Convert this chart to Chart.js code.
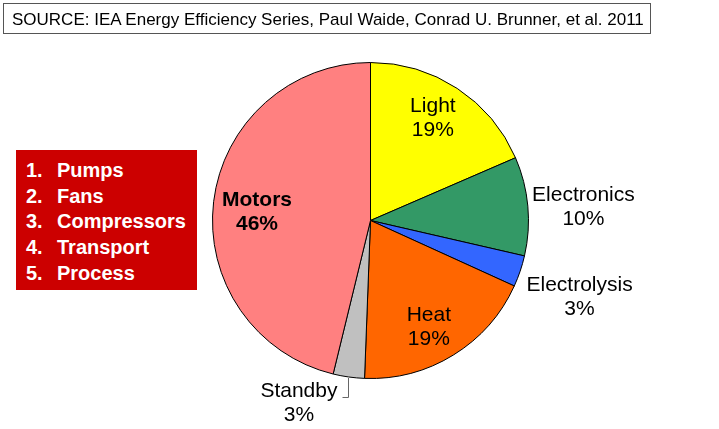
<!DOCTYPE html>
<html>
<head>
<meta charset="utf-8">
<title>Electricity use by end use</title>
<script src="https://cdn.jsdelivr.net/npm/chart.js@4"></script>
<style>
  body { margin: 0; background: #fff; font-family: "Liberation Sans", Arial, sans-serif; }
  #wrap { position: relative; width: 719px; height: 429px; }
  #source {
    position: absolute; left: 3px; top: 3px; width: 638px; height: 29px;
    border: 1px solid #555; font-size: 17px; line-height: 32px; padding-left: 8px;
    box-sizing: content-box; color: #000; white-space: nowrap;
  }
  #motorUses {
    position: absolute; left: 16px; top: 150px; width: 181px; height: 140px;
    background: #cc0000; color: #fff; font-weight: bold; font-size: 20px;
  }
  #motorUses div { position: absolute; left: 10px; height: 26px; line-height: 26px; }
  #motorUses span { display: inline-block; width: 31px; }
</style>
</head>
<body>
<div id="wrap">
  <canvas id="pie" width="719" height="429"></canvas>
  <div id="source"></div>
  <div id="motorUses"></div>
</div>
<script>
const sourceText = 'SOURCE: IEA Energy Efficiency Series, Paul Waide, Conrad U. Brunner, et al. 2011';
const motorUses = ['Pumps', 'Fans', 'Compressors', 'Transport', 'Process'];

const categories = ['Light', 'Electronics', 'Electrolysis', 'Heat', 'Standby', 'Motors'];
const shares = [18.5, 10.1, 3.2, 18.8, 3.2, 46.2];
const shareLabels = ['19%', '10%', '3%', '19%', '3%', '46%'];
const colors = ['#ffff00', '#339966', '#3366ff', '#ff6600', '#c0c0c0', '#ff8080'];

// where each label sits: fraction of the radius, and a turn (degrees) off the slice middle
const labelSpots = [
  { r: 0.76, turn: -2 },
  { r: 1.35, turn: 1.7 },
  { r: 1.41, turn: 1.5 },
  { r: 0.77, turn: 3 },
  { r: 1.24, turn: 13.5 },
  { r: 0.72, turn: -2.8 }
];

document.getElementById('source').textContent = sourceText;
const box = document.getElementById('motorUses');
motorUses.forEach((name, i) => {
  const row = document.createElement('div');
  row.style.top = (7 + i * 25.7) + 'px';
  row.innerHTML = '<span>' + (i + 1) + '.</span>' + name;
  box.appendChild(row);
});

const sliceLabels = {
  id: 'sliceLabels',
  afterDatasetsDraw(chart) {
    const ctx = chart.ctx;
    const arcs = chart.getDatasetMeta(0).data;
    ctx.save();
    ctx.textAlign = 'center';
    ctx.textBaseline = 'middle';
    ctx.fillStyle = '#000';
    arcs.forEach((arc, i) => {
      const mid = (arc.startAngle + arc.endAngle) / 2;
      const a = mid + labelSpots[i].turn * Math.PI / 180;
      const d = arc.outerRadius * labelSpots[i].r;
      const x = arc.x + Math.cos(a) * d;
      const y = arc.y + Math.sin(a) * d;
      ctx.font = (categories[i] === 'Motors' ? 'bold ' : '') + '21px "Liberation Sans", Arial, sans-serif';
      ctx.fillText(categories[i], x, y - 12);
      ctx.fillText(shareLabels[i], x, y + 12);

      if (categories[i] === 'Standby') {
        // small leader from the slice edge
        const ex = arc.x + Math.cos(mid) * arc.outerRadius;
        const ey = arc.y + Math.sin(mid) * arc.outerRadius;
        ctx.strokeStyle = '#666';
        ctx.lineWidth = 1;
        ctx.beginPath();
        ctx.moveTo(Math.round(ex) - 0.5, ey + 1);
        ctx.lineTo(Math.round(ex) - 0.5, ey + 20.5);
        ctx.lineTo(Math.round(ex) - 6.5, ey + 20.5);
        ctx.stroke();
      }
    });
    ctx.restore();
  }
};

new Chart(document.getElementById('pie'), {
  type: 'pie',
  data: {
    labels: categories,
    datasets: [{
      data: shares,
      backgroundColor: colors,
      borderColor: '#000',
      borderWidth: 1
    }]
  },
  options: {
    responsive: false,
    animation: false,
    layout: { padding: { left: 212, right: 190, top: 62, bottom: 50 } },
    plugins: {
      legend: { display: false },
      tooltip: { enabled: false }
    }
  },
  plugins: [sliceLabels]
});
</script>
</body>
</html>
